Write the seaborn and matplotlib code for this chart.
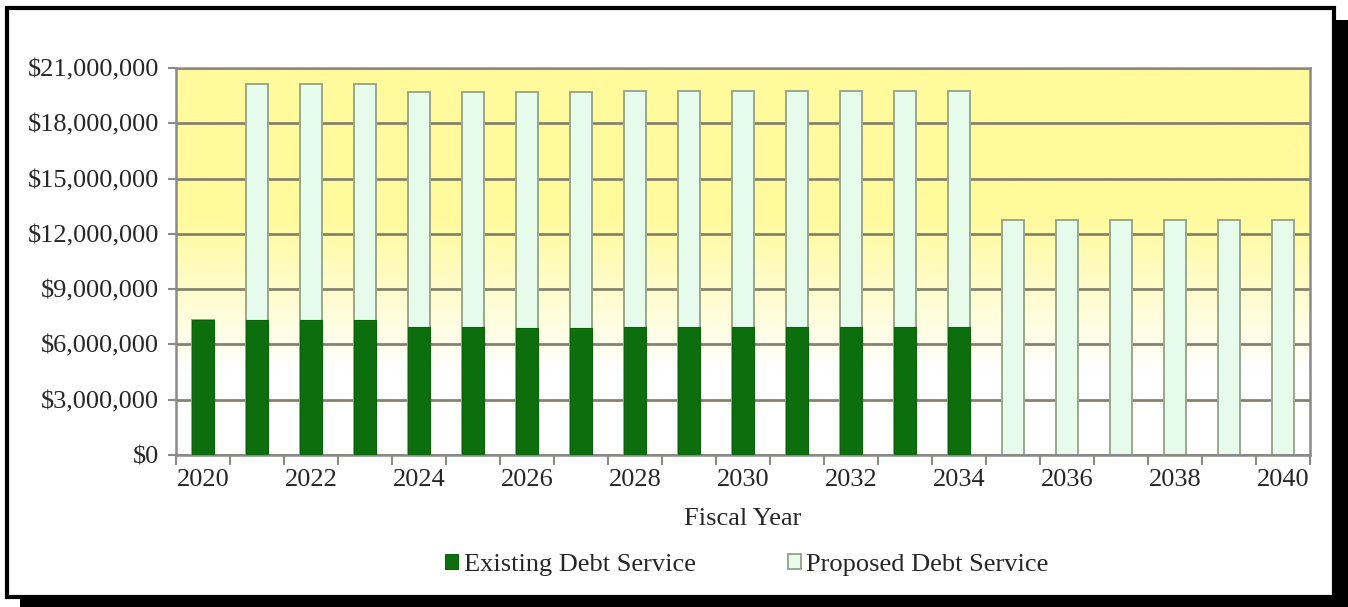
import numpy as np
import pandas as pd
import matplotlib
matplotlib.use("Agg")
import matplotlib.pyplot as plt
import seaborn as sns
from matplotlib.patches import Rectangle
from matplotlib.colors import LinearSegmentedColormap
from matplotlib.ticker import FuncFormatter, FixedLocator

# --------------------------------------------------------------
# Data (millions of dollars)
# --------------------------------------------------------------
years = list(range(2020, 2041))
existing = [7.30, 7.33, 7.33, 7.33, 6.96, 6.96, 6.89, 6.88, 6.96, 6.96, 6.96,
            6.96, 6.96, 6.96, 6.96, 0, 0, 0, 0, 0, 0]
proposed = [0, 12.80, 12.80, 12.80, 12.75, 12.75, 12.82, 12.82, 12.79, 12.79,
            12.79, 12.79, 12.79, 12.79, 12.79, 12.75, 12.75, 12.75, 12.75,
            12.75, 12.75]

df = pd.DataFrame({
    "year": [str(y) for y in years],
    "existing": np.array(existing) * 1e6,
    "proposed": np.array(proposed) * 1e6,
})
df["total"] = df["existing"] + df["proposed"]

sns.set_style("white")
plt.rcParams["font.family"] = ["Liberation Serif", "DejaVu Serif"]
FS = 19

W, H = 1348, 607
fig = plt.figure(figsize=(W / 100, H / 100), dpi=100)

# outer frame with drop shadow
fig.patches.append(Rectangle((20 / W, 0), 1 - 20 / W, 1 - 20 / H,
                             transform=fig.transFigure, facecolor="black",
                             edgecolor="none", zorder=-3))
fig.patches.append(Rectangle((7 / W, 10 / H), 1327 / W, 589 / H,
                             transform=fig.transFigure, facecolor="white",
                             edgecolor="black", lw=3, zorder=-2))

ax = fig.add_axes([176 / W, 1 - 455 / H, (1310 - 176) / W, (455 - 68) / H])
ax.patch.set_alpha(0)

# yellow-to-white gradient background
grad_y = np.linspace(0, 21, 300)
vals = np.clip((grad_y - 4.5) / 8.5, 0, 1)[:, None]
cmap = LinearSegmentedColormap.from_list("bg", ["#ffffff", "#fffa9c"])
ax.imshow(vals, extent=(-0.5, 20.5, 0, 21e6), origin="lower", aspect="auto",
          cmap=cmap, vmin=0, vmax=1, zorder=0)

sns.barplot(data=df, x="year", y="total", color="#e6fbec", edgecolor="#9aa88a",
            linewidth=1.4, width=0.41, saturation=1, ax=ax,
            label="Proposed Debt Service", zorder=2)
sns.barplot(data=df, x="year", y="existing", color="#0c6e0c", edgecolor="#0b620b",
            linewidth=0.8, width=0.41, saturation=1, ax=ax,
            label="Existing Debt Service", zorder=3)

ax.set_xlim(-0.5, 20.5)
ax.set_ylim(0, 21e6)
ax.set_yticks(np.arange(0, 21e6 + 1, 3e6))
ax.yaxis.set_major_formatter(FuncFormatter(lambda v, p: f"${v:,.0f}"))
ax.grid(axis="y", color="#85836e", lw=2, zorder=1)
ax.set_axisbelow(True)

ax.xaxis.set_major_locator(FixedLocator(range(0, 21, 2)))
ax.set_xticklabels([str(y) for y in years[::2]])
ax.xaxis.set_minor_locator(FixedLocator(np.arange(-0.5, 21, 1)))
ax.tick_params(axis="x", which="major", length=0, labelsize=FS, pad=10)
ax.tick_params(axis="x", which="minor", length=7, width=1.5, color="#8a8a8a",
               direction="out", bottom=True)
ax.tick_params(axis="y", length=6, width=1.5, color="#8a8a8a", direction="out",
               left=True, labelsize=FS, pad=6)

for s in ax.spines.values():
    s.set_color("#8a8a8a")
    s.set_linewidth(1.8)

ax.set_xlabel("Fiscal Year", fontsize=FS, labelpad=12)
ax.set_ylabel("")

handles, labels = ax.get_legend_handles_labels()
order = [labels.index("Existing Debt Service"), labels.index("Proposed Debt Service")]
fig.legend([handles[i] for i in order], [labels[i] for i in order],
           loc="center", bbox_to_anchor=(747 / W, 1 - 565 / H), ncol=2,
           frameon=False, fontsize=FS, handlelength=0.5, handleheight=0.5,
           handletextpad=0.2, columnspacing=3.5)
if ax.get_legend() is not None:
    ax.get_legend().remove()

fig.savefig("out.png", dpi=100)
